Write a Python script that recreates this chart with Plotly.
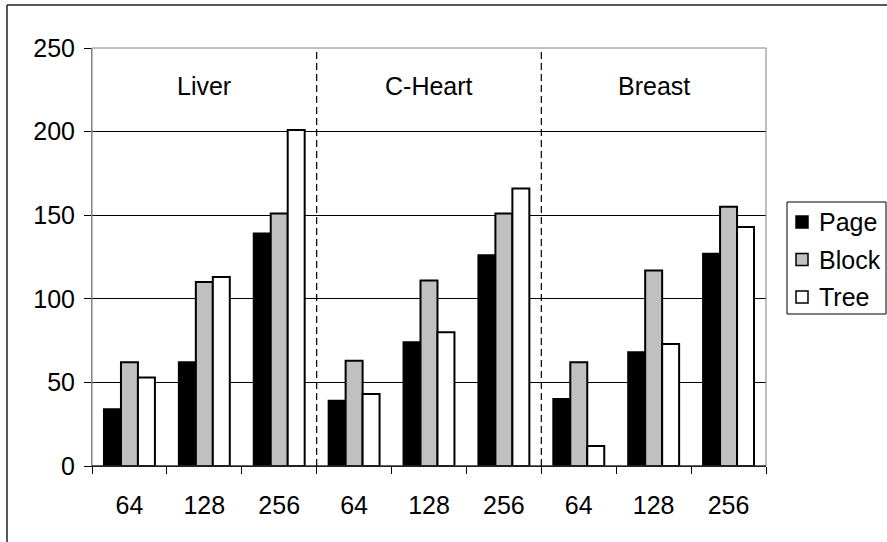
import plotly.graph_objects as go

tissues = ["Liver", "C-Heart", "Breast"]
sizes = ["64", "128", "256"]
x_labels = sizes * 3
page = [34, 62, 139, 39, 74, 126, 40, 68, 127]
block = [62, 110, 151, 63, 111, 151, 62, 117, 155]
tree = [53, 113, 201, 43, 80, 166, 12, 73, 143]
y_ticks = [0, 50, 100, 150, 200, 250]
series = [("Page", page, "black"), ("Block", block, "#c0c0c0"), ("Tree", tree, "white")]

xpos = list(range(len(x_labels)))
FONT = "Liberation Sans, Arial, sans-serif"
FS = 25

fig = go.Figure()
for name, vals, col in series:
    fig.add_trace(go.Bar(x=xpos, y=vals, name=name, marker=dict(color=col, line=dict(color="black", width=2))))

W, H = 887, 542
L, R, T, B = 92, 766, 48, 466
px = lambda v: (v - L) / (R - L)
py = lambda v: (B - v) / (B - T)

fig.update_layout(
    width=W, height=H,
    margin=dict(l=L, r=W - R, t=T, b=H - B, pad=0, autoexpand=False),
    paper_bgcolor="white", plot_bgcolor="white",
    barmode="group", bargap=0.32, bargroupgap=0,
    font=dict(family=FONT, size=FS, color="black"),
    showlegend=False,
    xaxis=dict(range=[-0.5, len(x_labels) - 0.5], tickvals=xpos, ticktext=x_labels,
               ticks="", showgrid=False, showline=True, linecolor="black", linewidth=1,
               ticklabelstandoff=17, zeroline=False,
               minor=dict(tickvals=[i - 0.5 for i in range(len(x_labels) + 1)], ticks="outside",
                          ticklen=7, tickcolor="black", tickwidth=1, showgrid=False)),
    yaxis=dict(range=[0, 250], tickvals=y_ticks, ticks="outside", ticklen=7, tickcolor="black",
               showgrid=True, gridcolor="black", gridwidth=1, showline=True, linecolor="#808080",
               zeroline=False, ticklabelstandoff=4),
)

# plot-area border (gray)
fig.add_shape(type="rect", xref="paper", yref="paper", x0=0, x1=1, y0=0, y1=1,
              line=dict(color="#808080", width=1), layer="above")
fig.add_shape(type="line", xref="paper", yref="paper", x0=0, x1=1, y0=0, y1=0,
              line=dict(color="black", width=1), layer="above")
# dashed separators between tissues
for i in range(1, len(tissues)):
    xs = i * len(sizes) - 0.5
    fig.add_shape(type="line", x0=xs, x1=xs, y0=0, y1=250, xref="x", yref="y",
                  line=dict(color="black", width=1.2, dash="7px,4px"), layer="above")
# tissue labels
for i, t in enumerate(tissues):
    fig.add_annotation(x=i * len(sizes) + 1, y=227, text=t, showarrow=False,
                       font=dict(size=FS), xref="x", yref="y")

# legend box (drawn manually to match the original placement)
fig.add_shape(type="rect", xref="paper", yref="paper", x0=px(787), x1=px(886), y0=py(202), y1=py(314),
              line=dict(color="black", width=1), fillcolor="white")
for k, (name, vals, col) in enumerate(series):
    cy = 222 + k * 37.5
    fig.add_shape(type="rect", xref="paper", yref="paper", x0=px(796), x1=px(808), y0=py(cy - 6), y1=py(cy + 6),
                  line=dict(color="black", width=1.5), fillcolor=col)
    fig.add_annotation(xref="paper", yref="paper", x=px(817), y=py(cy), text=name, showarrow=False,
                       xanchor="left", yanchor="middle", font=dict(size=FS))

# outer chart frame (left and top edges visible)
fig.add_shape(type="line", xref="paper", yref="paper", x0=px(7), x1=px(7), y0=py(5), y1=py(560),
              line=dict(color="#222", width=1.5))
fig.add_shape(type="line", xref="paper", yref="paper", x0=px(7), x1=px(900), y0=py(5), y1=py(5),
              line=dict(color="#222", width=1.5))

fig.write_html("out.html")
